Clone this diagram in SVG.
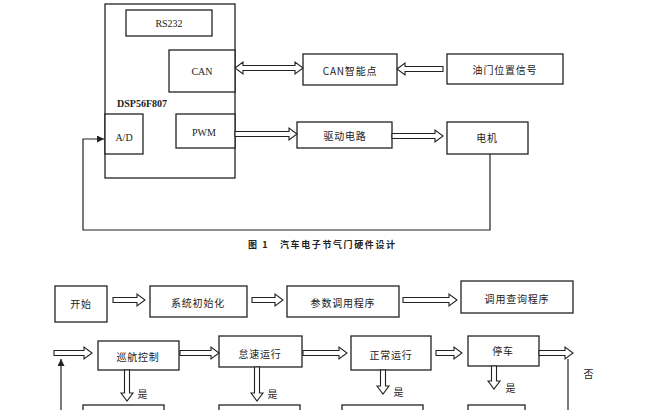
<svg xmlns="http://www.w3.org/2000/svg" width="656" height="410" viewBox="0 0 656 410">
<style>
.b{fill:#fff;stroke:#222;stroke-width:1.3}
.a{fill:#fff;stroke:#222;stroke-width:1.1;stroke-linejoin:miter}
.l{fill:none;stroke:#222;stroke-width:1.2}
.t{font-family:"Noto Sans CJK SC","Noto Sans",sans-serif;font-size:10px;fill:#222;text-anchor:middle;dominant-baseline:central;letter-spacing:0.8px}
.s{font-family:"Liberation Serif",serif;font-size:10px;fill:#222;text-anchor:middle;dominant-baseline:central}
.c{font-family:"Noto Sans CJK SC",sans-serif;font-size:9px;font-weight:bold;fill:#222;dominant-baseline:central;letter-spacing:1.6px}
</style>
<defs>
<marker id="sa" viewBox="0 0 10 10" refX="10" refY="5" markerWidth="7" markerHeight="7" markerUnits="userSpaceOnUse" orient="auto"><path d="M0,0L10,5L0,10z" fill="#222"/></marker>
</defs>
<rect width="656" height="410" fill="#fff"/>

<g id="dsp">
<rect class="b" x="105" y="4" width="130" height="174"/>
<text class="s" x="142" y="103" style="font-weight:bold">DSP56F807</text>
</g>
<g id="rs232"><rect class="b" x="126" y="10" width="86" height="26"/><text class="s" x="169" y="23">RS232</text></g>
<g id="can"><rect class="b" x="169" y="50" width="66" height="42"/><text class="s" x="202" y="71">CAN</text></g>
<g id="ad"><rect class="b" x="105" y="114" width="38" height="40"/><text class="s" x="124" y="137">A/D</text></g>
<g id="pwm"><rect class="b" x="176" y="114" width="59" height="34"/><text class="s" x="204" y="132">PWM</text></g>
<g id="cannode"><rect class="b" x="303" y="54" width="94" height="31"/><text class="t" x="350" y="70">CAN智能点</text></g>
<g id="throttle"><rect class="b" x="447" y="54" width="116" height="30"/><text class="t" x="505" y="69">油门位置信号</text></g>
<g id="driver"><rect class="b" x="297" y="122" width="95" height="26"/><text class="t" x="345" y="135">驱动电路</text></g>
<g id="motor"><rect class="b" x="447" y="122" width="81" height="32"/><text class="t" x="487" y="137">电机</text></g>

<text class="c" x="248" y="244">图 1</text>
<text class="c" x="280" y="244">汽车电子节气门硬件设计</text>

<g id="start"><rect class="b" x="55" y="286" width="52" height="36"/><text class="t" x="81" y="303">开始</text></g>
<g id="init"><rect class="b" x="150" y="286" width="97" height="31"/><text class="t" x="198" y="302">系统初始化</text></g>
<g id="param"><rect class="b" x="287" y="286" width="112" height="31"/><text class="t" x="343" y="302">参数调用程序</text></g>
<g id="query"><rect class="b" x="461" y="281" width="112" height="32"/><text class="t" x="517" y="298">调用查询程序</text></g>
<g id="cruise"><rect class="b" x="98" y="341" width="81" height="29"/><text class="t" x="138" y="356">巡航控制</text></g>
<g id="idle"><rect class="b" x="219" y="336" width="83" height="31"/><text class="t" x="260" y="353">怠速运行</text></g>
<g id="normal"><rect class="b" x="351" y="336" width="80" height="34"/><text class="t" x="391" y="354">正常运行</text></g>
<g id="stop"><rect class="b" x="468" y="336" width="71" height="30"/><text class="t" x="503" y="350">停车</text></g>
<g id="b1"><rect class="b" x="83" y="405" width="81" height="30"/></g>
<g id="b2"><rect class="b" x="219" y="405" width="81" height="30"/></g>
<g id="b3"><rect class="b" x="342" y="405" width="81" height="30"/></g>
<g id="b4"><rect class="b" x="468" y="405" width="57" height="30"/></g>

<g id="connectors">
<polygon class="a" points="235,68 243,62 243,65.5 295,65.5 295,62 303,68 295,74 295,70.5 243,70.5 243,74"/>
<polygon class="a" points="397,69 405,63 405,66.5 443,66.5 443,71.5 405,71.5 405,75"/>
<polygon class="a" points="235,131.5 289,131.5 289,128 297,134 289,140 289,136.5 235,136.5"/>
<polygon class="a" points="392,133.5 435,133.5 435,130 443,136 435,142 435,138.5 392,138.5"/>
<polyline class="l" points="490,154 490,230 83,230 83,139 104,139" marker-end="url(#sa)"/>

<polygon class="a" points="113,297.5 137,297.5 137,294 145,300 137,306 137,302.5 113,302.5"/>
<polygon class="a" points="252,297.5 275,297.5 275,294 283,300 275,306 275,302.5 252,302.5"/>
<polygon class="a" points="403,297.5 449,297.5 449,294 457,300 449,306 449,302.5 403,302.5"/>

<polygon class="a" points="54,350.5 84,350.5 84,347 92,353 84,359 84,355.5 54,355.5"/>
<polygon class="a" points="180,350.5 211,350.5 211,347 219,353 211,359 211,355.5 180,355.5"/>
<polygon class="a" points="303,350.5 339,350.5 339,347 347,353 339,359 339,355.5 303,355.5"/>
<polygon class="a" points="436,350.5 454,350.5 454,347 462,353 454,359 454,355.5 436,355.5"/>
<polygon class="a" points="539,350.5 565,350.5 565,347 573,353 565,359 565,355.5 539,355.5"/>
<line class="l" x1="568" y1="359" x2="568" y2="410"/>
<line class="l" x1="61" y1="410" x2="61" y2="359" marker-end="url(#sa)"/>

<polygon class="a" points="124.5,370 129.5,370 129.5,393 133,393 127,401 121,393 124.5,393"/>
<polygon class="a" points="254.5,367 259.5,367 259.5,393 263,393 257,401 251,393 254.5,393"/>
<polygon class="a" points="380.5,370 385.5,370 385.5,386 389,386 383,394 377,386 380.5,386"/>
<polygon class="a" points="491.5,366 496.5,366 496.5,381 500,381 494,389 488,381 491.5,381"/>
</g>
<text class="t" x="143" y="393">是</text>
<text class="t" x="273" y="393">是</text>
<text class="t" x="399" y="391">是</text>
<text class="t" x="511" y="387">是</text>
<text class="t" x="589" y="373">否</text>
</svg>
